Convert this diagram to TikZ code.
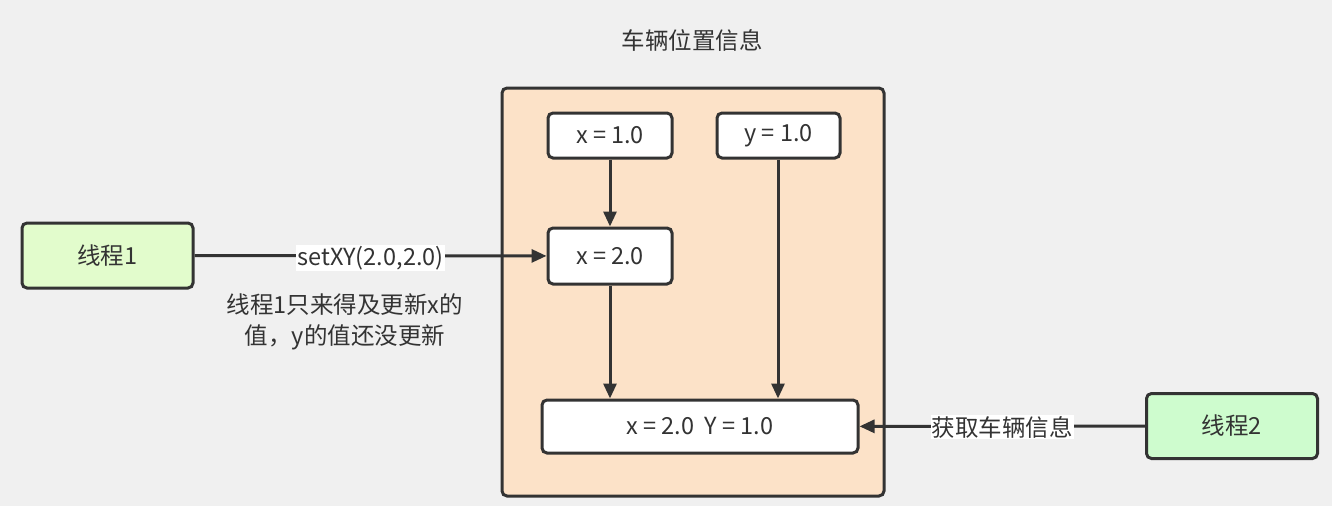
\documentclass[tikz,border=0pt]{standalone}
\usepackage{fontspec}
\setmainfont{Noto Sans CJK SC}
\usetikzlibrary{arrows.meta}
\definecolor{bgc}{RGB}{240,240,240}
\definecolor{linec}{RGB}{51,51,51}
\definecolor{peach}{RGB}{252,226,200}
\definecolor{greenA}{RGB}{226,252,204}
\definecolor{greenB}{RGB}{206,252,206}
\begin{document}
\begin{tikzpicture}[x=1pt,y=-1pt,
  every node/.style={font=\fontsize{23.5}{28}\selectfont, text=linec},
  box/.style={draw=linec, line width=3pt, rounded corners=5pt, fill=white, inner sep=0pt},
  thread/.style={box, minimum width=171pt, minimum height=65pt},
  conn/.style={draw=linec, line width=3pt, -{Triangle[length=15pt,width=13pt]}},
  lbl/.style={fill=white, inner sep=1pt}]
\useasboundingbox[fill=bgc] (0,0) rectangle (1332,506);
\node[draw=linec, line width=3pt, rounded corners=5pt, fill=peach, minimum width=382pt, minimum height=408pt, inner sep=0pt] (cont) at (693,292) {};
\node (title) at (692,40) {车辆位置信息};
\node[box, minimum width=124pt, minimum height=45pt] (x1) at (610,135.5) {x = 1.0};
\node[box, minimum width=123pt, minimum height=45pt] (y1) at (778.5,135.5) {y = 1.0};
\node[box, minimum width=124pt, minimum height=56pt] (x2) at (610,256) {x = 2.0};
\node[box, minimum width=316pt, minimum height=53pt] (res) at (700,426.5) {x = 2.0\ \ Y = 1.0};
\node[thread, fill=greenA] (t1) at (107.5,255.5) {线程1};
\node[thread, fill=greenB] (t2) at (1232,426) {线程2};
\draw[conn] (x1) -- (x2);
\draw[conn] (y1.south -| 778,0) -- (res.north -| 778,0);
\draw[conn] (x2) -- (res.north -| x2);
\draw[conn] (t1) -- node[lbl, pos=0.5, yshift=-2pt] (l1) {setXY(2.0,2.0)} (x2);
\draw[conn] (t2) -- node[lbl, pos=0.5, yshift=-1pt] (l2) {获取车辆信息} (res);
\node[align=center, font=\fontsize{23.5}{31}\selectfont] (note) at (345,321.5) {线程1只来得及更新x的\\值，y的值还没更新};
\end{tikzpicture}
\end{document}
